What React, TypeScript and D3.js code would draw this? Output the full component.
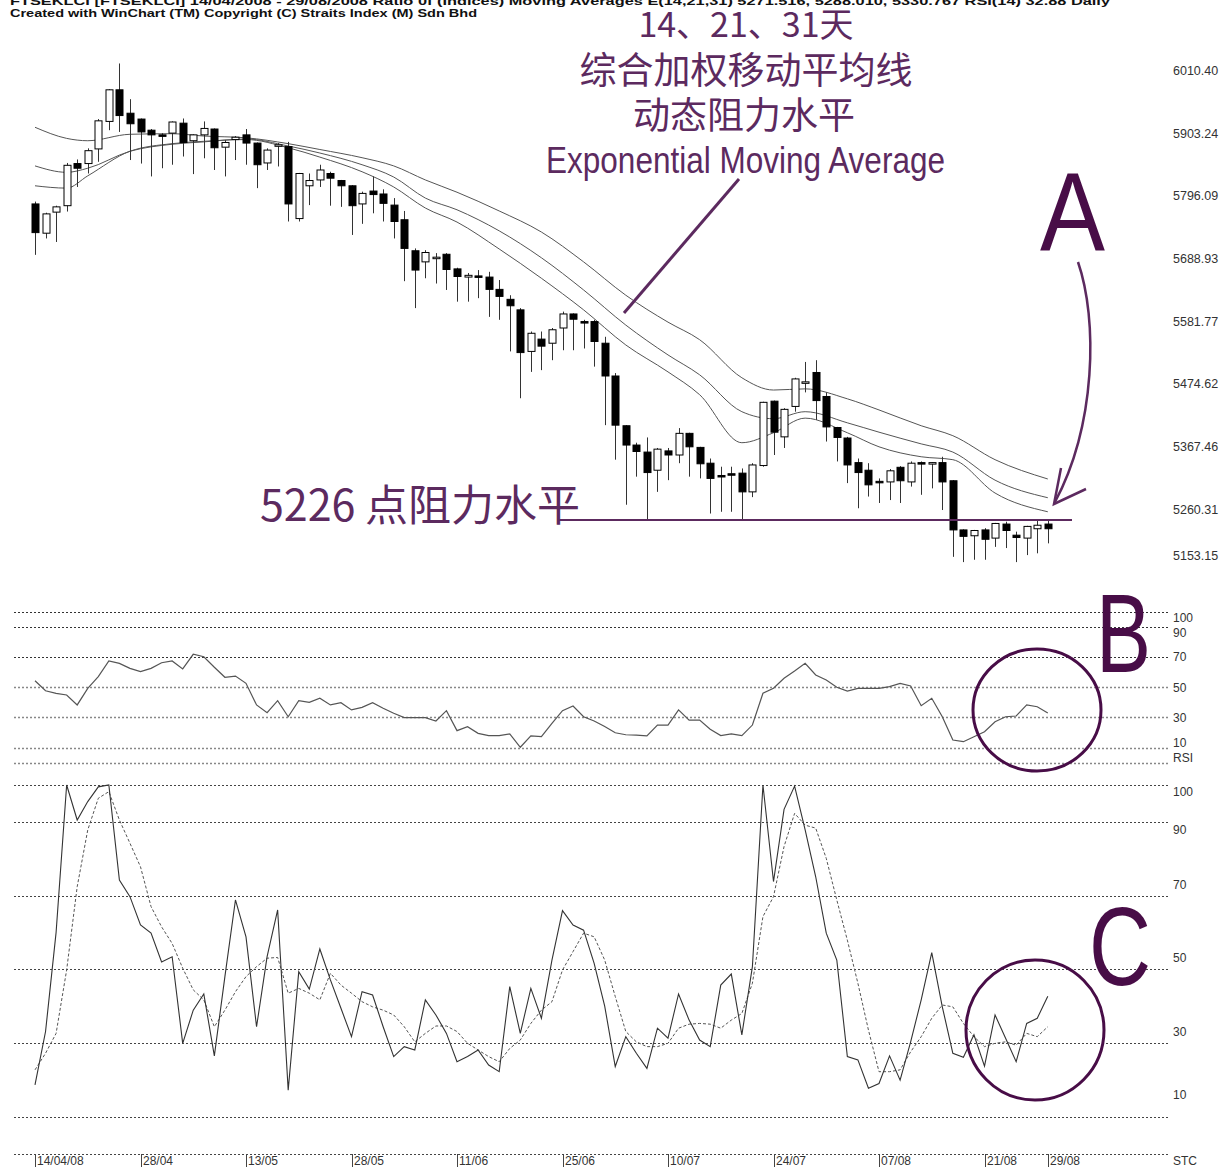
import React from 'react';
import * as d3 from 'd3';

const W = 1223;
const H = 1170;

// ---------- Price data (daily OHLC, FTSE KLCI 14/04/08 - 29/08/08) ----------
const opens = [5766,5716,5752,5763,5835,5835,5860,5907,5961,5921,5911,5892,5884,5887,5904,5874,5884,5894,5863,5876,5884,5870,5836,5866,5864,5741,5797,5807,5818,5806,5797,5766,5788,5783,5764,5739,5686,5667,5674,5680,5655,5641,5643,5641,5620,5603,5585,5514,5535,5528,5554,5578,5565,5565,5528,5472,5387,5354,5342,5311,5344,5337,5374,5350,5323,5302,5305,5306,5274,5319,5429,5368,5420,5461,5478,5437,5384,5366,5324,5311,5292,5291,5316,5291,5324,5323,5324,5293,5209,5199,5209,5195,5219,5200,5195,5211,5219];
const highs = [5770,5751,5763,5836,5842,5861,5911,5962,6006,5945,5912,5894,5887,5907,5912,5885,5907,5895,5875,5882,5894,5871,5861,5870,5872,5819,5818,5833,5821,5807,5798,5787,5813,5791,5776,5754,5690,5687,5682,5682,5657,5648,5653,5650,5636,5610,5588,5548,5548,5554,5582,5579,5568,5568,5539,5477,5388,5358,5367,5349,5349,5383,5375,5351,5331,5317,5317,5314,5323,5428,5430,5417,5469,5496,5499,5444,5385,5368,5331,5323,5297,5313,5318,5326,5326,5325,5334,5294,5210,5209,5212,5221,5223,5206,5216,5227,5227];
const lows = [5679,5707,5701,5753,5795,5818,5838,5892,5889,5841,5835,5813,5827,5833,5847,5817,5844,5824,5813,5841,5833,5793,5824,5830,5736,5736,5764,5795,5763,5761,5713,5732,5750,5736,5707,5634,5588,5639,5630,5619,5599,5599,5605,5573,5568,5514,5434,5479,5482,5499,5516,5516,5519,5488,5388,5329,5252,5300,5226,5274,5294,5323,5300,5297,5237,5240,5240,5226,5265,5317,5337,5349,5411,5444,5397,5360,5326,5289,5246,5266,5255,5260,5255,5283,5269,5280,5243,5163,5154,5158,5158,5180,5178,5154,5166,5169,5186];
const closes = [5717,5749,5761,5832,5827,5857,5908,5961,5917,5903,5889,5884,5882,5906,5871,5884,5895,5862,5871,5880,5870,5833,5858,5867,5766,5818,5806,5824,5810,5797,5763,5784,5782,5767,5736,5690,5653,5683,5675,5654,5642,5644,5642,5620,5608,5592,5512,5545,5523,5551,5578,5569,5564,5531,5472,5388,5354,5343,5307,5347,5337,5374,5351,5322,5297,5301,5304,5274,5320,5427,5376,5415,5467,5462,5430,5385,5367,5320,5307,5286,5291,5310,5293,5323,5323,5324,5291,5209,5198,5208,5193,5220,5208,5196,5215,5217,5211];

// ---------- Exponential moving averages (at sample bars) ----------
const emaBars = [0,3,5,9,13,16,20,24,27,31,34,37,40,44,48,52,56,60,63,67,70,73,77,80,84,87,91,96];
const ema31 = [5897,5878,5874,5885,5886,5882,5879,5869,5859,5845,5831,5807,5786,5754,5718,5667,5610,5564,5534,5469,5448,5450,5433,5414,5387,5370,5329,5296];
const ema21 = [5831,5820,5827,5856,5868,5872,5877,5865,5853,5833,5812,5776,5756,5720,5674,5619,5559,5508,5474,5411,5399,5411,5392,5376,5356,5342,5294,5264];
const ema14 = [5797,5793,5814,5856,5869,5873,5876,5862,5846,5821,5795,5759,5735,5689,5639,5585,5525,5479,5440,5358,5375,5400,5375,5351,5334,5329,5272,5240];

// ---------- RSI(14) ----------
const rsi = [54.2,47.6,45.9,44.8,38.2,49.2,56.9,67.3,65.7,62.4,60.2,62.4,66.1,67.3,62,71.7,70.1,63.1,56.5,57.3,52.5,38.2,33.1,41,30.4,41,39.9,42.6,38.2,39.7,34.9,36.6,39.7,36,32.7,29.8,29.8,29.8,27.6,34.4,21.2,23.8,19.4,17.9,17.9,19,10.2,17.7,17.2,26,34.4,37.5,30.4,27.6,24,19.8,18.5,18.3,17.7,24.9,24.9,34.9,28.2,28.2,22.1,17.9,19,17.9,24.9,45.9,49.2,55.8,60.6,65.7,58,54.7,49.9,47.4,49.2,49.2,49.2,50.3,52.5,50.7,37.7,42.6,30.4,15,13.9,17.2,20.5,27.1,30.4,30.9,38.2,37,32.9];

// ---------- Stochastic (STC) %K and %D ----------
const stcK = [18.6,33.1,60,100,90.5,95.5,99.5,100,74.2,69.7,62,59.8,52,53.4,29.9,38.9,43.3,26.5,48,68.8,58.8,34.4,53.4,66.1,17.2,49.3,44.6,55.5,47.1,39.4,31.7,43.9,43,34.4,26.3,29,28.1,41.7,37.6,32.6,24.9,26.3,28.1,24,22.2,45.3,32.6,44.8,36.7,52.5,65.9,62,60.6,51.6,40,23.6,31.7,27.2,23.1,34,31.3,43.3,36.2,30.8,29,45.7,48.7,32.2,50.7,100,73.8,93.4,99.7,87.8,75.1,59.8,52.5,26.3,25.4,17.7,19,26.5,19.9,30.3,41.7,54.5,39.8,27.2,26.1,32.2,23.7,37.6,31.3,24.9,35.3,36.7,42.7];
const stcD = [22.7,27.2,32.6,49.8,72.4,87.8,96.4,98.2,90.5,84.2,77.8,67,61.5,57,50.3,44.4,41.7,34.4,38.9,43.9,48,50.7,53,53.2,43.5,44.8,43.5,41.7,48.9,45.7,43.5,41.2,39.8,38.9,37.6,34.4,30.3,32.6,34.6,34.6,33.1,29.9,28.1,26.3,24.9,28.5,30.8,35.3,38.9,41.2,49.8,54.8,59.8,58.8,52.5,42.6,33.1,30.3,29,29,29.9,34,35.1,35.3,35.1,34,36.2,38,46.2,64.3,69.7,83.3,92.3,89.1,88.3,80.1,68.8,57.9,46.2,33.5,22.2,22.2,22.7,27.6,31.7,36.7,40.3,39.8,35.3,31.7,29,29.9,30.3,29.4,32.6,31.7,34.4];

// ---------- Axis / tick labels ----------
const priceTicks = [6010.40,5903.24,5796.09,5688.93,5581.77,5474.62,5367.46,5260.31,5153.15];
const oscGrid = [100,90,70,50,30,10,0];
const oscLabels = [100,90,70,50,30,10];
const dateLabels = ['14/04/08','28/04','13/05','28/05','11/06','25/06','10/07','24/07','07/08','21/08','29/08'];
const dateBars = [0,10,20,30,40,50,60,70,80,90,96];
const resistance = 5226;

const titleLine1 = 'FTSEKLCI [FTSEKLCI]  14/04/2008 - 29/08/2008   Ratio 0f   (Indices) Moving Averages E(14,21,31) 5271.516, 5288.010, 5330.767   RSI(14)   32.88   Daily';
const titleLine2 = 'Created with WinChart (TM)  Copyright (C) Straits Index (M) Sdn Bhd';

const PURPLE = '#5c2a5f';
const DEEP = '#480d47';
const LABEL_FONT = '"Liberation Sans", Arial, sans-serif';
const CJK = '"Noto Sans CJK SC", "Noto Sans CJK TC", sans-serif';

export default function App() {
  const n = closes.length;
  const xs = d3.scaleLinear().domain([0, n - 1]).range([35, 35 + (n - 1) * 10.55]);
  const yP = d3.scaleLinear().domain([5153.15, 6010.40]).range([562.6, 60.9]);
  const yR = d3.scaleLinear().domain([0, 100]).range([762.7, 611.5]);
  const yS = d3.scaleLinear().domain([0, 100]).range([1153.5, 785]);
  // label placement of the oscillator scales (WinChart spreads them unevenly)
  const yRL = d3.scaleLinear().domain([10, 30, 50, 70, 90, 100]).range([743, 718, 688, 657, 633, 618]);
  const ySL = d3.scaleLinear().domain([10, 30, 50, 70, 90, 100]).range([1095, 1032, 958, 885, 830, 792]);

  const emaLine = (vals: number[]) =>
    d3.line<number>().x((_, k) => xs(emaBars[k])).y(v => yP(v)).curve(d3.curveMonotoneX)(vals) || '';
  const oscLine = (vals: number[], ys: d3.ScaleLinear<number, number>) =>
    d3.line<number>().x((_, k) => xs(k)).y(v => ys(v))(vals) || '';

  const gridX1 = 14;
  const gridX2 = 1168;
  const labelX = 1173;

  return (
    <svg width={W} height={H} viewBox={`0 0 ${W} ${H}`} style={{ position: 'absolute', left: 0, top: 0, background: '#fff' }}>
      <rect x={0} y={0} width={W} height={H} fill="#fff" />
      {/* header */}
      <text x={10} y={5} fontFamily={LABEL_FONT} fontWeight="bold" fontSize={11} fill="#111" textLength={1100} lengthAdjust="spacingAndGlyphs">{titleLine1}</text>
      <text x={10} y={17} fontFamily={LABEL_FONT} fontWeight="bold" fontSize={11} fill="#111" textLength={467} lengthAdjust="spacingAndGlyphs">{titleLine2}</text>

      {/* EMA lines */}
      {[ema31, ema21, ema14].map((e, k) => (
        <path key={k} d={emaLine(e)} fill="none" stroke="#555" strokeWidth={1} />
      ))}

      {/* candles */}
      {closes.map((c, i) => {
        const o = opens[i];
        const cx = Math.round(xs(i)) + 0.5;
        const top = yP(Math.max(o, c));
        const bot = yP(Math.min(o, c));
        const up = c >= o;
        const h = Math.max(bot - top, 1.5);
        return (
          <g key={i}>
            <line x1={cx} x2={cx} y1={yP(highs[i])} y2={yP(lows[i])} stroke="#333" strokeWidth={1} />
            <rect x={cx - 3.5} y={top} width={7} height={h} fill={up ? '#fff' : '#000'} stroke="#000" strokeWidth={1} />
          </g>
        );
      })}

      {/* price labels */}
      {priceTicks.map((t, k) => (
        <text key={k} x={labelX} y={Math.min(yP(t) + 14, 560)} fontFamily={LABEL_FONT} fontSize={12.5} fill="#333">{t.toFixed(2)}</text>
      ))}

      {/* RSI grid */}
      {oscGrid.map((g, k) => (
        <line key={k} x1={gridX1} x2={gridX2} y1={Math.round(yR(g)) + 0.5} y2={Math.round(yR(g)) + 0.5}
          stroke={g >= 70 ? '#333' : '#888'} strokeWidth={g >= 70 ? 1 : 1.6} strokeDasharray="2,2" />
      ))}
      <path d={oscLine(rsi, yR)} fill="none" stroke="#555" strokeWidth={1.2} />
      {oscLabels.map((g, k) => (
        <text key={k} x={labelX} y={yRL(g) + 4} fontFamily={LABEL_FONT} fontSize={12} fill="#333">{g}</text>
      ))}
      <text x={labelX} y={762} fontFamily={LABEL_FONT} fontSize={12} fill="#333">RSI</text>

      {/* STC grid */}
      {oscGrid.map((g, k) => (
        <line key={k} x1={gridX1} x2={gridX2} y1={Math.round(yS(g)) + 0.5} y2={Math.round(yS(g)) + 0.5}
          stroke="#444" strokeWidth={1} strokeDasharray="2,2" />
      ))}
      <path d={oscLine(stcD, yS)} fill="none" stroke="#555" strokeWidth={1} strokeDasharray="3,2" />
      <path d={oscLine(stcK, yS)} fill="none" stroke="#333" strokeWidth={1.1} />
      {oscLabels.map((g, k) => (
        <text key={k} x={labelX} y={ySL(g) + 4} fontFamily={LABEL_FONT} fontSize={12} fill="#333">{g}</text>
      ))}
      <text x={labelX} y={1165} fontFamily={LABEL_FONT} fontSize={12} fill="#333">STC</text>

      {/* date labels */}
      {dateLabels.map((d, k) => {
        const dx = Math.round(xs(dateBars[k])) + 0.5;
        return (
          <g key={k}>
            <line x1={dx} x2={dx} y1={1154} y2={1167} stroke="#444" strokeWidth={1} />
            <text x={dx + 1.5} y={1165} fontFamily={LABEL_FONT} fontSize={12} fill="#333">{d}</text>
          </g>
        );
      })}

      {/* annotations */}
      <text x={746} y={37} textAnchor="middle" fontFamily={CJK} fontSize={34} fill={PURPLE}>14、21、31天</text>
      <text x={746} y={84} textAnchor="middle" fontFamily={CJK} fontSize={37} fill={PURPLE}>综合加权移动平均线</text>
      <text x={744} y={129} textAnchor="middle" fontFamily={CJK} fontSize={37} fill={PURPLE}>动态阻力水平</text>
      <text x={546} y={173} fontFamily={LABEL_FONT} fontSize={37} fill={PURPLE} textLength={399} lengthAdjust="spacingAndGlyphs">Exponential Moving Average</text>
      <line x1={739} y1={179} x2={624} y2={313} stroke={PURPLE} strokeWidth={3} />

      <text x={260} y={521} fontFamily={CJK} fontSize={43} fill={PURPLE}>{resistance} 点阻力水平</text>
      <line x1={558} x2={1072} y1={yP(resistance)} y2={yP(resistance)} stroke={PURPLE} strokeWidth={2} />

      <text x={1040} y={250} fontFamily={LABEL_FONT} fontSize={112} fill={DEEP} textLength={65} lengthAdjust="spacingAndGlyphs">A</text>
      <path d="M 1078 262 C 1098 320, 1096 425, 1055 502" fill="none" stroke={PURPLE} strokeWidth={2.5} />
      <path d="M 1061 468 L 1054 504 L 1086 489" fill="none" stroke={PURPLE} strokeWidth={2.5} />

      <text x={1096} y={672} fontFamily={LABEL_FONT} fontSize={112} fill={DEEP} textLength={55} lengthAdjust="spacingAndGlyphs">B</text>
      <ellipse cx={1037} cy={710} rx={64} ry={61} fill="none" stroke={DEEP} strokeWidth={3} />

      <text x={1089} y={985} fontFamily={LABEL_FONT} fontSize={112} fill={DEEP} textLength={62} lengthAdjust="spacingAndGlyphs">C</text>
      <ellipse cx={1035} cy={1030} rx={69} ry={70} fill="none" stroke={DEEP} strokeWidth={3} />
    </svg>
  );
}
